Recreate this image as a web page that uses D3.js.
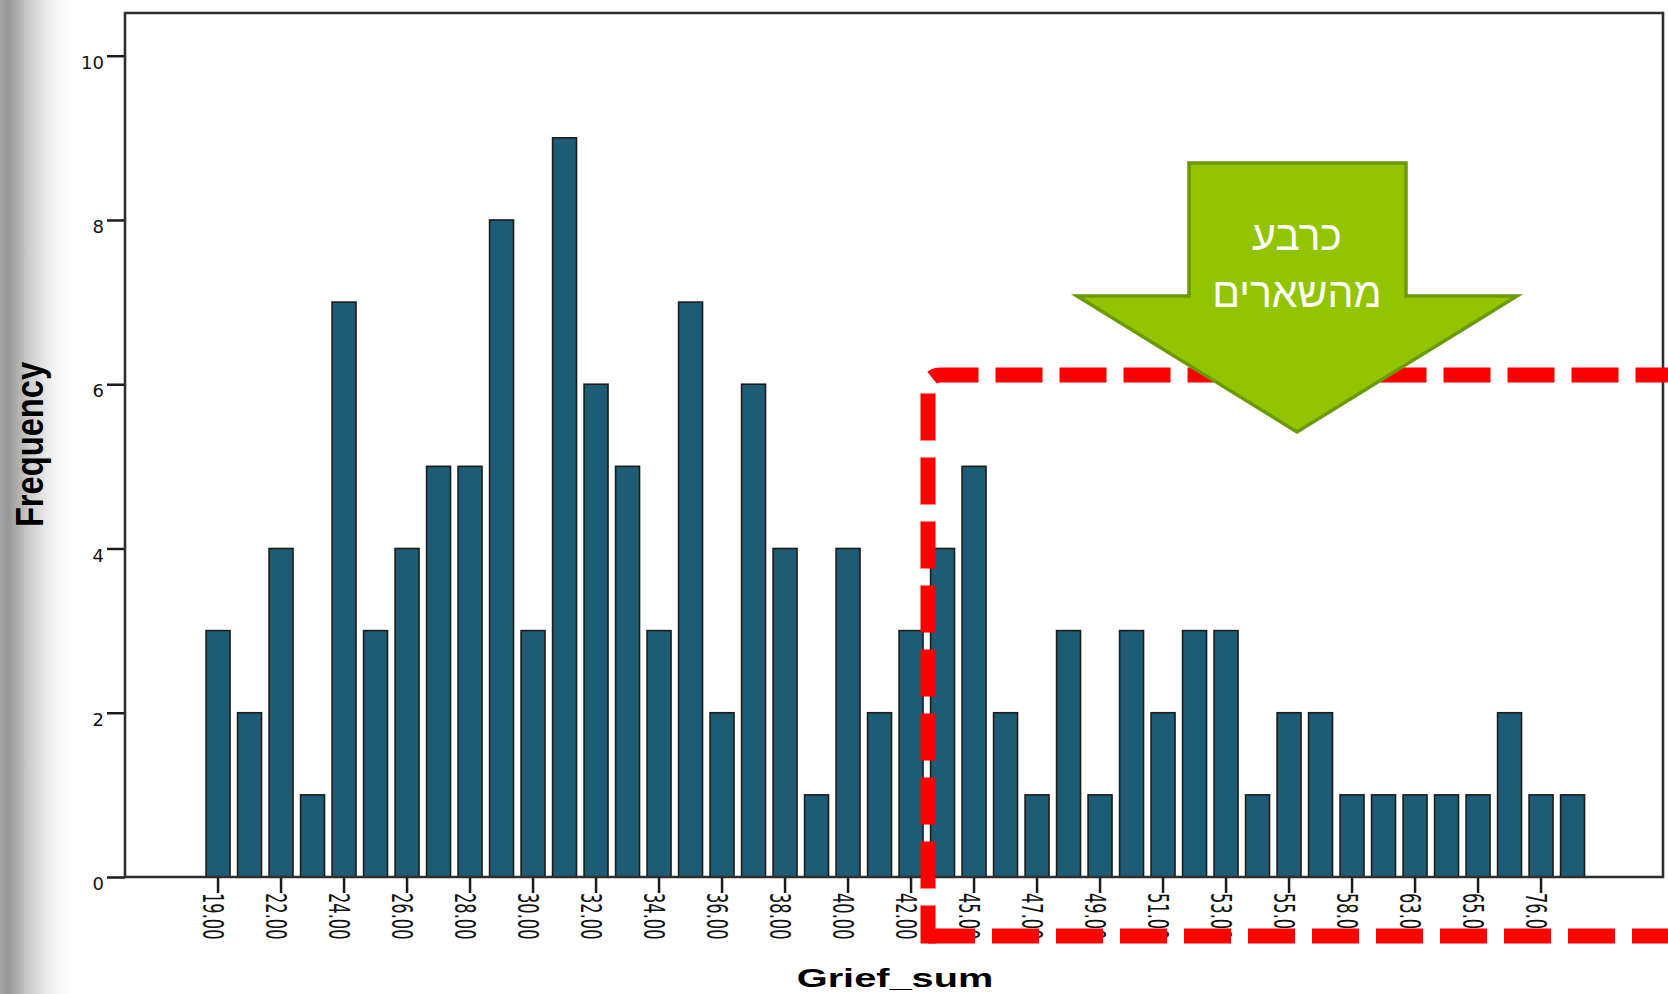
<!DOCTYPE html>
<html>
<head>
<meta charset="utf-8">
<script src="https://cdn.jsdelivr.net/npm/d3@7"></script>
<style>
body { margin: 0; background: #fff; overflow: hidden; }
svg { display: block; }
</style>
</head>
<body>
<svg id="chart" width="1668" height="994"></svg>
<script>
// Grief_sum categories (every other one is labelled on the axis)
var griefValues = [19, 21, 22, 23, 24, 25, 26, 27, 28, 29, 30, 31, 32, 33, 34, 35, 36, 37, 38, 39, 40, 41,
    42, 43, 45, 46, 47, 48, 49, 50, 51, 52, 53, 54, 55, 56, 58, 60, 63, 64, 65, 67, 76, 80];
var frequency = [3, 2, 4, 1, 7, 3, 4, 5, 5, 8, 3, 9, 6, 5, 3, 7, 2, 6, 4, 1, 4, 2,
    3, 4, 5, 2, 1, 3, 1, 3, 2, 3, 3, 1, 2, 2, 1, 1, 1, 1, 1, 2, 1, 1];
var xTickValues = griefValues.filter(function(d, i) { return i % 2 === 0; });
var yTicks = [0, 2, 4, 6, 8, 10];
var arrowText = ["כרבע", "מהשארים"];

var svg = d3.select("#chart");
var W = 1668, H = 994;
var plotLeft = 125, plotRight = 1663, plotTop = 13, plotBottom = 877;

var x = d3.scaleBand()
    .domain(griefValues)
    .range([202.3, 1588.3])
    .paddingInner(0.24)
    .paddingOuter(0.12);

var y = d3.scaleLinear()
    .domain([0, 10.52])
    .range([plotBottom, plotTop]);

// grey shade on the left edge
var defs = svg.append("defs");
var grad = defs.append("linearGradient")
    .attr("id", "leftShade")
    .attr("x1", "0").attr("x2", "1").attr("y1", "0").attr("y2", "0");
grad.append("stop").attr("offset", "0").attr("stop-color", "#a4a4a4");
grad.append("stop").attr("offset", "0.12").attr("stop-color", "#979797");
grad.append("stop").attr("offset", "0.4").attr("stop-color", "#cccccc");
grad.append("stop").attr("offset", "0.7").attr("stop-color", "#efefef");
grad.append("stop").attr("offset", "1").attr("stop-color", "#ffffff");

svg.append("rect")
    .attr("x", 0).attr("y", 0)
    .attr("width", 72).attr("height", H)
    .attr("fill", "url(#leftShade)");

// bars
svg.append("g")
    .selectAll("rect")
    .data(griefValues)
    .enter()
    .append("rect")
    .attr("x", function(d) { return x(d); })
    .attr("y", function(d, i) { return y(frequency[i]); })
    .attr("width", x.bandwidth())
    .attr("height", function(d, i) { return y(0) - y(frequency[i]); })
    .attr("fill", "#1d5c74")
    .attr("stroke", "#1c1c1c")
    .attr("stroke-width", 1.6);

// x axis
var xAxis = svg.append("g")
    .attr("transform", "translate(0," + plotBottom + ")")
    .call(d3.axisBottom(x)
        .tickValues(xTickValues)
        .tickSize(16)
        .tickFormat(d3.format(".2f")));
xAxis.select(".domain").remove();
xAxis.selectAll(".tick line")
    .attr("stroke", "#1a1a1a")
    .attr("stroke-width", 2.5);
xAxis.selectAll(".tick text")
    .attr("x", 0)
    .attr("y", 15.5)
    .attr("dy", null)
    .attr("transform", "translate(0,16) rotate(90) scale(0.58,1)")
    .attr("text-anchor", "start")
    .style("font-family", "'DejaVu Sans', sans-serif")
    .style("font-size", "28px")
    .style("fill", "#111");

// y axis
var yAxis = svg.append("g")
    .attr("transform", "translate(" + plotLeft + ",0)")
    .call(d3.axisLeft(y)
        .tickValues(yTicks)
        .tickSize(18)
        .tickPadding(3));
yAxis.select(".domain").remove();
yAxis.selectAll(".tick line")
    .attr("stroke", "#1a1a1a")
    .attr("stroke-width", 2.5);
yAxis.selectAll(".tick text")
    .attr("dy", "0.7em")
    .style("font-family", "'DejaVu Sans', sans-serif")
    .style("font-size", "18px")
    .style("fill", "#111");

// frame
svg.append("path")
    .attr("d", "M" + plotLeft + "," + plotBottom + "V" + plotTop + "H" + plotRight + "V" + plotBottom + "Z")
    .attr("fill", "none")
    .attr("stroke", "#2e2e2e")
    .attr("stroke-width", 2.6);

// axis titles
svg.append("text")
    .attr("transform", "translate(43,444.5) rotate(-90) scale(0.86,1)")
    .attr("text-anchor", "middle")
    .style("font-family", "'Liberation Sans', Arial, sans-serif")
    .style("font-weight", "bold")
    .style("font-size", "38px")
    .style("fill", "#000")
    .text("Frequency");

svg.append("text")
    .attr("transform", "translate(895,987) scale(1.5,1)")
    .attr("text-anchor", "middle")
    .style("font-family", "'Liberation Sans', Arial, sans-serif")
    .style("font-weight", "bold")
    .style("font-size", "26.5px")
    .style("fill", "#000")
    .text("Grief_sum");

// red dashed box round the upper quarter
var boxLeft = 928, boxTop = 375, boxBottom = 936, boxRight = 1720, r = 13;
svg.append("path")
    .attr("d", "M" + boxLeft + "," + (boxBottom + 7.5) + "V" + (boxTop + r) +
        "Q" + boxLeft + "," + boxTop + " " + (boxLeft + r) + "," + boxTop + "H" + boxRight)
    .attr("fill", "none")
    .attr("stroke", "#ff0000")
    .attr("stroke-width", 15)
    .attr("stroke-dasharray", "47,17")
    .attr("stroke-dashoffset", 9);
svg.append("path")
    .attr("d", "M" + boxLeft + "," + boxBottom + "H" + boxRight)
    .attr("fill", "none")
    .attr("stroke", "#ff0000")
    .attr("stroke-width", 15)
    .attr("stroke-dasharray", "47,17");

// green arrow
var arrowPts = [[1189, 163], [1406, 163], [1406, 296], [1517, 296], [1297, 432], [1077, 296], [1189, 296]];
svg.append("polygon")
    .attr("points", arrowPts.map(function(p) { return p.join(","); }).join(" "))
    .attr("fill", "#93c400")
    .attr("stroke", "#6b9a06")
    .attr("stroke-width", 3.5)
    .attr("stroke-linejoin", "miter");

svg.selectAll(".arrowText")
    .data(arrowText)
    .enter()
    .append("text")
    .attr("class", "arrowText")
    .attr("x", 1297)
    .attr("y", function(d, i) { return 250 + i * 57; })
    .attr("text-anchor", "middle")
    .attr("direction", "rtl")
    .style("font-family", "'Liberation Sans', 'DejaVu Sans', sans-serif")
    .style("font-size", "41px")
    .style("fill", "#ffffff")
    .text(function(d) { return d; });
</script>
</body>
</html>
